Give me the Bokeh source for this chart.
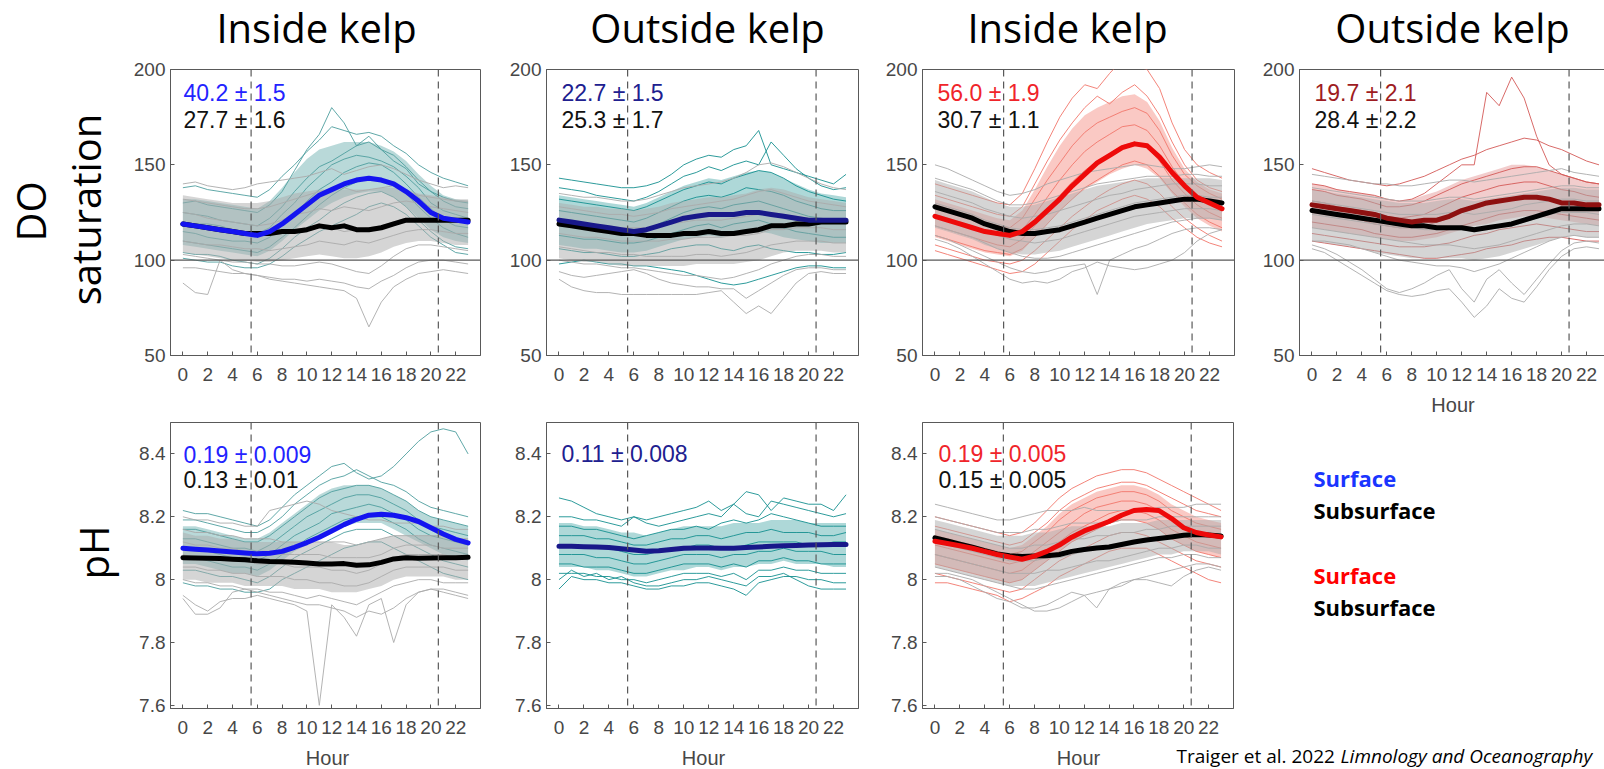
from bokeh.plotting import figure
from bokeh.layouts import column, row
from bokeh.models import Label, Span, Range1d, FixedTicker, CustomJSTickFormatter
from bokeh.embed import file_html
from bokeh.resources import INLINE

# ---------------- data ----------------
hours = list(range(24))
x_ticks = list(range(0, 23, 2))
do_ticks = [50, 100, 150, 200]
ph_ticks = [7.6, 7.8, 8.0, 8.2, 8.4]
do_range = (50, 200)
ph_range = (7.59, 8.5)
day_bounds = [5.5, 20.6]
do_ref = 100

col_titles = ["Inside kelp", "Outside kelp", "Inside kelp", "Outside kelp"]
row_do = ["DO", "saturation"]
row_ph = "pH"
x_label = "Hour"
do_stats_surf = ["40.2 \u00b1 1.5", "22.7 \u00b1 1.5", "56.0 \u00b1 1.9", "19.7 \u00b1 2.1"]
do_stats_sub = ["27.7 \u00b1 1.6", "25.3 \u00b1 1.7", "30.7 \u00b1 1.1", "28.4 \u00b1 2.2"]
ph_stats_surf = ["0.19 \u00b1 0.009", "0.11 \u00b1 0.008", "0.19 \u00b1 0.005"]
ph_stats_sub = ["0.13 \u00b1 0.01", None, "0.15 \u00b1 0.005"]
legend_text = ["Surface", "Subsurface", "Surface", "Subsurface"]
citation = ["Traiger et al. 2022 ", "Limnology and Oceanography"]

# --- Panel A: DO inside kelp (site 1)
A_surf_mean = [119,118,117,116,115,114,113,115,119,124,129,134,137,140,142,143,142,140,136,131,125,122,121,120]
A_sub_mean = [119,118,117,116,115,114,114,114,115,115,116,118,117,118,116,116,117,119,121,121,121,121,121,121]
A_surf_lo = [108,107,106,105,104,103,102,105,110,116,121,126,130,133,135,136,136,133,128,122,116,112,110,109]
A_surf_hi = [132,132,131,130,129,128,127,131,138,146,153,158,160,162,162,162,160,157,152,145,139,134,132,131]
A_surf_lines = [
    [138,139,137,136,135,134,133,137,144,150,157,163,170,168,166,167,165,160,156,150,146,143,141,139],
    [130,131,129,128,127,126,125,129,136,147,158,166,180,172,160,165,158,152,148,140,136,133,131,130],
    [125,124,123,121,120,119,118,122,128,136,143,149,152,156,160,162,158,155,149,142,136,131,128,127],
    [120,119,119,118,116,114,114,117,124,130,138,144,150,153,155,154,152,149,144,138,130,126,124,122],
    [115,114,112,111,110,110,109,112,118,124,131,137,141,146,149,151,150,146,140,133,127,121,118,117],
    [110,109,108,107,106,105,104,107,112,117,123,129,134,138,141,143,142,140,135,128,122,117,114,112],
    [104,103,103,102,100,99,98,101,106,112,117,121,126,130,133,135,136,133,128,121,115,110,107,106],
    [101,100,99,99,97,96,96,98,102,107,111,115,118,121,124,128,130,128,124,118,112,108,104,103],
]
A_sub_lo = [104,103,102,101,100,100,99,99,100,101,102,103,102,101,101,102,104,107,109,110,110,109,108,108]
A_sub_hi = [134,133,132,131,130,130,130,131,133,135,136,137,137,137,137,137,138,138,137,135,134,133,132,132]
A_sub_lines = [
    [140,141,139,138,137,138,140,141,142,143,144,146,148,145,147,149,150,148,145,142,140,138,139,138],
    [132,131,130,129,128,127,127,128,130,132,134,136,137,138,136,137,138,139,136,134,133,132,131,131],
    [125,124,122,121,120,119,118,119,121,124,125,127,126,128,127,126,128,130,131,130,128,127,126,125],
    [118,117,116,115,114,113,113,113,114,116,117,118,117,115,116,117,118,120,122,122,121,121,120,120],
    [110,109,108,108,107,106,106,105,106,107,108,110,109,108,110,109,111,113,115,116,116,115,114,114],
    [103,102,101,100,99,99,98,98,97,97,98,99,98,96,94,93,97,102,106,108,108,107,106,105],
    [96,96,95,94,93,93,92,91,90,90,89,90,89,88,86,85,89,92,96,99,100,100,99,98],
    [88,83,82,100,95,93,92,90,89,88,87,86,85,84,80,65,78,86,90,93,94,95,94,93],
]

# --- Panel B: DO outside kelp (site 1)
B_surf_mean = [121,120,119,118,117,116,115,116,118,120,122,123,124,124,124,125,125,124,123,122,121,121,121,121]
B_sub_mean = [119,118,117,116,115,114,114,113,113,113,114,114,115,114,114,115,116,118,118,119,119,120,120,120]
B_surf_lo = [108,107,106,106,105,104,104,105,107,109,111,112,113,112,113,114,115,114,112,111,110,109,109,109]
B_surf_hi = [134,133,132,131,130,129,128,130,133,136,139,141,143,142,144,146,147,146,143,140,137,135,134,133]
B_surf_lines = [
    [143,142,141,140,139,138,138,139,141,145,150,153,155,154,158,160,168,150,148,146,144,142,140,145],
    [138,137,136,134,133,132,131,133,136,140,144,146,149,147,150,152,150,162,155,148,143,139,137,138],
    [132,131,130,129,128,127,126,128,131,134,137,139,141,140,143,145,147,146,143,139,136,134,132,131],
    [126,125,124,123,122,121,120,122,125,128,131,133,134,133,135,138,137,136,134,131,129,127,126,126],
    [120,119,118,117,116,115,114,116,119,122,125,127,128,127,129,130,131,129,127,125,123,122,121,121],
    [113,112,111,111,110,109,109,110,112,114,116,118,119,117,119,120,121,119,117,115,114,113,112,112],
    [106,105,104,104,103,102,102,103,104,106,107,108,108,106,105,107,108,106,105,104,104,103,103,104],
    [98,99,100,99,98,98,97,97,96,95,94,92,90,88,87,88,90,92,94,96,97,97,96,96],
]
B_sub_lo = [101,100,99,99,98,97,97,97,97,97,97,98,98,98,98,99,100,102,104,105,105,105,104,104]
B_sub_hi = [130,129,128,128,127,127,126,127,128,130,131,132,133,133,134,135,137,138,137,135,133,132,131,130]
B_sub_lines = [
    [135,134,133,133,132,131,131,132,134,136,138,139,140,141,143,146,150,151,149,146,143,140,138,137],
    [128,127,126,125,124,124,123,124,125,127,128,129,130,131,132,134,136,137,135,133,131,130,129,128],
    [121,120,119,119,118,117,117,117,118,119,120,121,121,121,122,123,124,125,124,123,122,122,121,121],
    [114,113,112,112,111,110,110,110,110,111,111,112,112,112,113,113,114,116,116,117,117,117,116,116],
    [107,106,105,104,104,103,103,102,102,102,102,103,103,102,103,104,106,108,109,110,110,110,109,109],
    [100,99,98,98,97,96,96,95,94,93,92,92,91,90,91,93,95,98,100,102,103,103,102,102],
    [94,92,91,92,93,94,95,93,90,88,87,86,86,85,85,80,84,88,92,95,96,96,95,95],
    [90,86,84,83,83,82,82,82,82,82,82,82,83,84,78,72,76,72,80,88,93,94,93,93],
]

# --- Panel C: DO inside kelp (site 2)
C_surf_mean = [123,121,119,117,115,114,113,115,120,126,132,139,145,151,155,159,161,160,154,146,139,133,130,127]
C_sub_mean = [128,126,124,122,119,117,115,114,114,115,116,118,120,122,124,126,128,129,130,131,132,132,131,130]
C_surf_lo = [112,110,108,106,104,103,102,105,112,119,126,132,137,141,145,148,150,148,143,135,128,122,118,115]
C_surf_hi = [132,130,128,126,124,122,121,126,137,149,160,169,176,180,183,186,187,183,173,159,148,141,137,135]
C_surf_lines = [
    [140,138,136,134,132,130,129,135,148,162,175,185,192,190,198,205,202,200,190,172,158,150,146,143],
    [134,132,130,128,126,124,123,128,140,152,163,172,180,186,182,188,192,186,176,162,150,142,138,136],
    [128,126,124,122,120,118,117,122,132,142,151,160,167,172,175,178,180,177,168,155,145,139,135,132],
    [123,121,119,117,115,113,112,116,124,133,142,150,157,162,166,170,171,168,160,149,140,134,130,127],
    [118,116,114,112,110,108,107,111,118,126,134,141,147,152,156,160,162,159,152,142,135,129,125,122],
    [113,111,109,107,105,104,103,106,112,119,126,132,138,142,146,150,152,150,144,136,130,124,120,117],
    [108,106,104,102,100,99,98,100,105,111,117,123,128,133,137,140,142,140,135,128,122,117,113,110],
    [105,103,101,99,97,95,93,94,98,104,110,116,121,126,129,132,134,132,128,122,117,112,109,107],
]
C_sub_lo = [117,115,113,111,108,106,104,103,103,104,105,107,109,111,113,115,117,119,120,121,122,122,122,121]
C_sub_hi = [142,140,138,136,133,130,128,128,129,131,133,135,137,139,140,141,142,143,143,143,143,143,143,142]
C_sub_lines = [
    [150,148,145,142,139,136,134,135,137,140,142,144,146,147,148,149,150,150,149,148,148,149,150,149],
    [143,141,139,137,134,131,129,129,130,132,134,136,138,140,141,142,143,144,144,144,145,145,144,144],
    [136,134,132,130,127,125,123,122,123,124,126,128,130,132,134,135,137,138,139,140,140,140,139,139],
    [130,128,126,124,121,119,117,116,116,117,118,120,122,124,126,128,130,131,132,133,134,134,133,133],
    [124,122,120,118,115,113,111,110,109,110,111,113,115,117,119,121,123,124,125,126,127,127,127,126],
    [118,116,114,112,109,106,104,102,101,101,102,104,106,108,110,112,114,116,118,120,121,122,122,121],
    [113,111,108,105,102,99,96,94,93,94,96,97,98,82,100,103,106,108,111,114,116,117,117,116],
    [111,109,106,102,98,94,90,88,89,88,90,94,96,99,97,96,95,96,98,100,104,110,114,116],
]

# --- Panel D: DO outside kelp (site 2)
D_surf_mean = [129,128,127,126,125,124,122,121,120,121,121,123,126,128,130,131,132,133,133,132,130,130,129,129]
D_sub_mean = [126,125,124,123,122,121,120,119,118,118,117,117,117,116,117,118,119,121,123,125,127,127,127,127]
D_surf_lo = [117,116,115,114,113,112,111,110,110,111,112,114,116,118,119,121,122,123,123,122,121,120,119,118]
D_surf_hi = [140,139,137,136,135,134,132,131,132,134,136,139,142,144,146,148,150,150,149,147,145,143,141,140]
D_surf_lines = [
    [140,139,137,136,135,134,132,131,132,135,140,145,150,150,188,181,196,185,165,150,145,143,141,140],
    [148,146,144,142,141,140,139,140,142,144,147,150,153,155,158,160,162,164,163,160,158,155,152,150],
    [137,136,134,133,132,130,128,128,129,131,134,137,140,142,144,146,148,149,149,147,145,143,141,140],
    [131,130,128,127,126,125,123,122,123,124,127,130,133,135,137,139,140,141,141,139,137,136,134,133],
    [126,125,123,122,121,119,118,117,117,118,120,122,125,127,129,131,132,133,133,132,130,129,128,127],
    [120,119,118,117,116,114,113,112,112,113,114,116,118,120,122,124,125,126,126,125,124,123,122,121],
    [114,113,112,111,110,109,108,107,107,107,108,109,111,113,114,116,117,118,119,118,117,116,115,115],
    [110,109,108,107,106,105,104,103,102,101,101,102,103,104,106,107,108,110,111,112,112,111,110,110],
]
D_sub_lo = [110,109,108,107,106,104,103,102,101,101,101,101,101,100,101,102,104,106,108,110,112,113,112,112]
D_sub_hi = [137,136,135,134,133,132,131,130,130,130,131,132,132,131,132,133,134,135,136,137,138,138,137,137]
D_sub_lines = [
    [145,144,143,142,141,140,140,139,139,140,141,142,142,141,142,143,144,145,146,147,148,146,145,144],
    [138,137,136,135,134,133,132,131,131,131,132,133,133,132,133,134,135,136,137,138,139,139,138,138],
    [131,130,129,128,127,126,125,124,124,124,124,125,125,124,125,126,127,129,130,131,132,132,131,131],
    [124,123,122,121,120,119,118,117,117,116,116,116,116,115,116,117,118,120,122,124,125,125,125,124],
    [117,116,115,114,113,112,111,110,109,108,108,108,107,106,107,108,110,112,114,116,118,119,119,118],
    [110,110,109,108,106,104,102,100,99,98,97,97,96,94,96,98,101,104,107,110,112,113,112,112],
    [108,106,103,99,95,90,85,83,85,88,92,95,85,78,90,95,88,82,90,98,105,109,110,109],
    [106,104,100,96,92,88,84,82,81,82,84,85,78,70,76,85,80,78,86,95,102,106,107,106],
]

# --- Panel E: pH inside kelp (site 1)
E_surf_mean = [8.100,8.097,8.094,8.091,8.088,8.085,8.082,8.084,8.090,8.103,8.118,8.135,8.155,8.175,8.192,8.205,8.208,8.205,8.197,8.185,8.165,8.145,8.128,8.117]
E_sub_mean = [8.070,8.069,8.068,8.067,8.065,8.063,8.060,8.058,8.057,8.055,8.053,8.050,8.050,8.051,8.046,8.047,8.055,8.066,8.070,8.068,8.069,8.070,8.070,8.071]
E_surf_lo = [8.05,8.05,8.04,8.03,8.02,8.02,8.01,8.03,8.06,8.09,8.11,8.13,8.15,8.17,8.18,8.18,8.18,8.16,8.14,8.12,8.10,8.08,8.07,8.06]
E_surf_hi = [8.17,8.17,8.16,8.15,8.14,8.13,8.13,8.15,8.18,8.21,8.24,8.27,8.29,8.30,8.30,8.30,8.29,8.27,8.25,8.22,8.20,8.19,8.18,8.17]
E_surf_lines = [
    [8.22,8.21,8.21,8.20,8.19,8.18,8.17,8.19,8.23,8.27,8.30,8.33,8.36,8.37,8.34,8.32,8.33,8.36,8.40,8.44,8.47,8.48,8.47,8.40],
    [8.19,8.19,8.18,8.17,8.16,8.15,8.15,8.17,8.20,8.24,8.27,8.30,8.32,8.33,8.35,8.33,8.31,8.30,8.28,8.25,8.23,8.22,8.21,8.20],
    [8.16,8.16,8.15,8.14,8.13,8.12,8.12,8.14,8.17,8.20,8.23,8.26,8.28,8.29,8.30,8.30,8.29,8.27,8.25,8.22,8.20,8.19,8.18,8.17],
    [8.13,8.13,8.12,8.11,8.10,8.10,8.09,8.11,8.14,8.17,8.20,8.22,8.24,8.26,8.27,8.27,8.26,8.24,8.22,8.19,8.17,8.16,8.15,8.14],
    [8.10,8.10,8.09,8.08,8.07,8.07,8.06,8.08,8.11,8.14,8.16,8.18,8.21,8.22,8.23,8.24,8.23,8.21,8.19,8.16,8.14,8.13,8.12,8.11],
    [8.07,8.07,8.06,8.05,8.04,8.04,8.03,8.05,8.08,8.10,8.13,8.15,8.17,8.19,8.20,8.20,8.20,8.18,8.16,8.13,8.11,8.10,8.09,8.08],
    [8.03,8.03,8.02,8.01,8.01,8.00,7.99,8.01,8.04,8.07,8.09,8.11,8.13,8.15,8.16,8.16,8.16,8.14,8.12,8.10,8.08,8.06,8.05,8.04],
    [7.99,7.98,7.98,7.97,7.97,7.96,7.96,7.97,8.00,8.02,8.04,8.06,8.08,8.10,8.11,8.12,8.12,8.10,8.08,8.06,8.04,8.02,8.01,8.00],
]
E_sub_lo = [8.00,8.00,7.99,7.99,7.99,7.98,7.98,7.98,7.98,7.97,7.97,7.97,7.96,7.96,7.96,7.97,7.98,8.00,8.01,8.01,8.01,8.01,8.00,8.00]
E_sub_hi = [8.15,8.14,8.14,8.13,8.13,8.12,8.12,8.12,8.12,8.12,8.12,8.12,8.12,8.11,8.11,8.12,8.13,8.14,8.14,8.14,8.14,8.14,8.13,8.13]
E_sub_lines = [
    [8.20,8.19,8.19,8.18,8.18,8.17,8.17,8.22,8.23,8.24,8.25,8.24,8.22,8.21,8.20,8.19,8.19,8.18,8.18,8.18,8.17,8.17,8.16,8.16],
    [8.16,8.15,8.15,8.14,8.14,8.13,8.13,8.13,8.12,8.12,8.12,8.12,8.12,8.12,8.11,8.12,8.13,8.14,8.14,8.14,8.14,8.14,8.13,8.13],
    [8.12,8.11,8.11,8.10,8.10,8.09,8.09,8.09,8.08,8.08,8.08,8.08,8.07,8.07,8.07,8.07,8.08,8.10,8.11,8.11,8.11,8.10,8.10,8.10],
    [8.08,8.07,8.07,8.07,8.06,8.06,8.05,8.05,8.05,8.04,8.04,8.04,8.03,8.03,8.02,8.03,8.05,8.07,8.08,8.08,8.08,8.08,8.07,8.07],
    [8.04,8.04,8.03,8.03,8.02,8.02,8.01,8.01,8.01,8.00,8.00,7.99,7.99,7.98,7.98,7.99,8.01,8.03,8.04,8.04,8.04,8.04,8.03,8.03],
    [8.00,7.99,7.99,7.98,7.98,7.97,7.97,7.96,7.96,7.95,7.94,7.95,7.94,7.93,7.92,7.94,7.96,7.98,7.99,8.00,8.00,7.99,7.99,7.99],
    [7.95,7.92,7.90,7.93,7.94,7.94,7.95,7.94,7.93,7.92,7.90,7.60,7.92,7.88,7.82,7.92,7.94,7.80,7.92,7.96,7.97,7.97,7.96,7.95],
    [7.94,7.89,7.89,7.91,7.96,7.97,7.96,7.95,7.94,7.93,7.92,7.92,7.91,7.90,7.88,7.90,7.89,7.91,7.94,7.96,7.97,7.96,7.95,7.94],
]

# --- Panel F: pH outside kelp (site 1), surface only
F_surf_mean = [8.106,8.106,8.105,8.104,8.102,8.098,8.094,8.090,8.092,8.096,8.100,8.101,8.101,8.100,8.100,8.102,8.104,8.106,8.108,8.109,8.110,8.111,8.112,8.112]
F_surf_lo = [8.04,8.04,8.04,8.03,8.03,8.02,8.01,8.01,8.02,8.03,8.03,8.04,8.04,8.03,8.04,8.04,8.05,8.05,8.06,8.05,8.05,8.05,8.04,8.04]
F_surf_hi = [8.18,8.18,8.17,8.17,8.16,8.15,8.15,8.14,8.15,8.16,8.17,8.17,8.17,8.17,8.18,8.18,8.18,8.19,8.19,8.19,8.18,8.18,8.18,8.18]
F_surf_lines = [
    [8.26,8.25,8.23,8.21,8.20,8.19,8.20,8.19,8.20,8.21,8.22,8.23,8.25,8.22,8.24,8.28,8.27,8.22,8.26,8.25,8.24,8.24,8.22,8.27],
    [8.20,8.20,8.19,8.19,8.18,8.17,8.20,8.18,8.17,8.18,8.19,8.20,8.21,8.20,8.24,8.21,8.20,8.25,8.24,8.23,8.22,8.21,8.20,8.21],
    [8.17,8.17,8.16,8.16,8.15,8.14,8.13,8.14,8.15,8.16,8.16,8.17,8.16,8.18,8.19,8.18,8.19,8.21,8.20,8.19,8.18,8.17,8.17,8.17],
    [8.14,8.14,8.14,8.13,8.13,8.12,8.11,8.11,8.12,8.13,8.13,8.14,8.14,8.13,8.14,8.15,8.15,8.16,8.15,8.15,8.15,8.14,8.14,8.15],
    [8.11,8.11,8.10,8.10,8.10,8.09,8.08,8.08,8.09,8.10,8.10,8.11,8.11,8.10,8.10,8.11,8.12,8.12,8.12,8.12,8.11,8.11,8.12,8.12],
    [8.08,8.08,8.08,8.07,8.07,8.06,8.05,8.05,8.06,8.07,8.08,8.08,8.08,8.07,8.08,8.08,8.09,8.09,8.10,8.09,8.09,8.09,8.08,8.08],
    [8.05,8.05,8.04,8.04,8.04,8.03,8.02,8.02,8.03,8.04,8.05,8.05,8.05,8.04,8.05,8.04,8.06,8.06,8.07,8.06,8.06,8.05,8.05,8.05],
    [8.02,8.02,8.02,8.01,8.01,8.00,8.00,7.99,8.00,8.01,8.02,8.02,8.02,8.01,8.02,8.00,8.03,8.03,8.04,8.03,8.03,8.02,8.02,8.02],
    [7.97,8.01,8.00,8.00,7.99,7.99,7.98,7.97,7.97,7.98,7.98,7.99,7.99,7.98,7.97,7.95,7.99,8.00,8.01,8.01,8.00,8.00,7.99,7.99],
    [8.00,8.03,8.01,8.02,8.00,8.01,7.99,7.98,7.98,7.99,8.00,8.00,8.01,8.00,7.99,7.98,8.01,8.01,8.02,8.00,7.98,7.97,7.97,7.97],
]

# --- Panel G: pH inside kelp (site 2)
G_surf_mean = [8.122,8.115,8.108,8.100,8.090,8.080,8.072,8.065,8.075,8.090,8.110,8.135,8.155,8.170,8.185,8.205,8.220,8.223,8.220,8.195,8.165,8.150,8.142,8.136]
G_sub_mean = [8.133,8.123,8.113,8.103,8.092,8.082,8.076,8.074,8.075,8.076,8.080,8.090,8.096,8.101,8.104,8.112,8.120,8.126,8.131,8.136,8.141,8.144,8.142,8.139]
G_surf_lo = [8.05,8.04,8.03,8.02,8.01,8.00,7.99,8.00,8.03,8.06,8.09,8.12,8.14,8.16,8.18,8.19,8.19,8.18,8.16,8.13,8.11,8.09,8.08,8.07]
G_surf_hi = [8.16,8.15,8.14,8.13,8.12,8.11,8.10,8.11,8.14,8.17,8.21,8.24,8.26,8.28,8.29,8.30,8.30,8.29,8.27,8.24,8.22,8.20,8.19,8.18]
G_surf_lines = [
    [8.20,8.19,8.18,8.17,8.16,8.15,8.14,8.15,8.18,8.22,8.26,8.29,8.31,8.33,8.34,8.35,8.35,8.34,8.32,8.30,8.28,8.26,8.24,8.22],
    [8.17,8.16,8.15,8.14,8.13,8.12,8.11,8.12,8.15,8.18,8.22,8.25,8.27,8.29,8.30,8.31,8.31,8.30,8.28,8.26,8.24,8.22,8.21,8.20],
    [8.14,8.13,8.12,8.11,8.10,8.09,8.08,8.09,8.12,8.15,8.19,8.22,8.24,8.26,8.27,8.28,8.28,8.27,8.25,8.22,8.20,8.18,8.17,8.16],
    [8.11,8.10,8.09,8.08,8.07,8.06,8.05,8.06,8.09,8.12,8.15,8.18,8.21,8.23,8.24,8.25,8.25,8.24,8.22,8.19,8.17,8.15,8.14,8.13],
    [8.08,8.07,8.06,8.05,8.04,8.03,8.02,8.03,8.06,8.09,8.12,8.15,8.17,8.19,8.21,8.22,8.22,8.21,8.19,8.16,8.14,8.12,8.11,8.10],
    [8.05,8.04,8.03,8.02,8.01,8.00,7.99,8.00,8.03,8.06,8.09,8.12,8.14,8.16,8.18,8.19,8.19,8.18,8.16,8.13,8.11,8.09,8.08,8.07],
    [8.02,8.01,8.00,7.99,7.98,7.97,7.96,7.97,8.00,8.03,8.06,8.08,8.10,8.12,8.14,8.15,8.15,8.14,8.12,8.10,8.08,8.06,8.05,8.04],
    [7.99,7.99,7.98,7.97,7.96,7.95,7.93,7.94,7.96,7.98,8.01,8.03,8.05,8.07,8.09,8.10,8.10,8.10,8.08,8.06,8.04,8.02,8.00,7.99],
]
G_sub_lo = [8.04,8.03,8.02,8.01,8.00,7.99,7.98,7.98,7.98,7.99,8.00,8.01,8.02,8.03,8.04,8.05,8.06,8.07,8.08,8.08,8.09,8.09,8.09,8.08]
G_sub_hi = [8.19,8.18,8.17,8.16,8.15,8.14,8.14,8.14,8.15,8.15,8.16,8.17,8.17,8.17,8.17,8.18,8.18,8.18,8.19,8.19,8.19,8.19,8.19,8.19]
G_sub_lines = [
    [8.24,8.23,8.22,8.21,8.20,8.19,8.19,8.20,8.21,8.22,8.22,8.22,8.23,8.22,8.22,8.22,8.22,8.22,8.23,8.23,8.23,8.24,8.24,8.24],
    [8.20,8.19,8.18,8.17,8.16,8.15,8.15,8.15,8.16,8.16,8.17,8.18,8.18,8.18,8.18,8.19,8.19,8.19,8.20,8.20,8.20,8.20,8.20,8.20],
    [8.16,8.15,8.14,8.13,8.12,8.11,8.10,8.10,8.11,8.11,8.12,8.13,8.13,8.14,8.14,8.15,8.15,8.16,8.16,8.17,8.17,8.17,8.17,8.17],
    [8.12,8.11,8.10,8.09,8.08,8.07,8.06,8.06,8.06,8.07,8.07,8.08,8.09,8.10,8.10,8.11,8.12,8.12,8.13,8.13,8.14,8.14,8.14,8.13],
    [8.08,8.07,8.06,8.05,8.04,8.03,8.02,8.02,8.02,8.03,8.03,8.04,8.05,8.06,8.06,8.07,8.08,8.09,8.10,8.10,8.11,8.11,8.10,8.10],
    [8.04,8.03,8.02,8.01,8.00,7.99,7.98,7.97,7.97,7.98,7.99,8.00,8.01,8.02,8.03,8.04,8.05,8.06,8.07,8.07,8.08,8.08,8.07,8.07],
    [8.01,8.01,8.00,7.98,7.96,7.94,7.93,7.91,7.91,7.92,7.94,7.96,7.95,7.91,7.97,7.99,8.00,8.00,7.99,7.98,8.01,8.03,8.04,8.03],
    [8.02,8.02,8.01,8.00,7.98,7.96,7.94,7.92,7.90,7.90,7.91,7.93,7.95,7.96,7.97,7.98,8.00,8.01,8.02,8.03,8.04,8.05,8.05,8.04],
]

# ---------------- styling ----------------
AX = "#595959"
LBL = "#474747"
TEAL_IN = "#4f9f9f"
TEAL_OUT = "#169090"
SALMON_IN = "#f2776b"
SALMON_OUT = "#d45a58"
GRAY = "#ababab"
BLUE = "#1414f0"
NAVY = "#18188a"
RED = "#ee0a0a"
DARKRED = "#8e1010"
TXT_BLUE = "#2323ff"
TXT_NAVY = "#20208f"
TXT_RED = "#f0242a"
TXT_DARKRED = "#9e1c22"
TITLE_FONT = "Open Sans"
NUM_FONT = "Liberation Sans"
TICK_SIZE = "19px"
XLAB_SIZE = "20px"
HALF_PI = 1.5707963


def panel(bl, fw, br, bt, fh, bb, yr, yticks, xend=24, xlabel=None, ph=False):
    p = figure(frame_width=fw, frame_height=fh,
               min_border_left=bl, min_border_right=br,
               min_border_top=bt, min_border_bottom=bb,
               x_range=Range1d(-1, xend), y_range=Range1d(*yr),
               output_backend="svg", toolbar_location=None)
    p.xgrid.visible = False
    p.ygrid.visible = False
    p.outline_line_color = AX
    p.outline_line_width = 1
    p.background_fill_color = "white"
    p.border_fill_color = "white"
    p.xaxis.ticker = FixedTicker(ticks=x_ticks)
    p.yaxis.ticker = FixedTicker(ticks=yticks)
    if ph:
        p.yaxis.formatter = CustomJSTickFormatter(code="return String(Math.round(tick*10)/10);")
    for ax in (p.xaxis[0], p.yaxis[0]):
        ax.axis_line_color = AX
        ax.major_tick_line_color = AX
        ax.major_tick_in = 4
        ax.major_tick_out = 0
        ax.minor_tick_line_color = None
        ax.major_label_text_font = NUM_FONT
        ax.major_label_text_font_size = TICK_SIZE
        ax.major_label_text_color = LBL
    p.yaxis.major_label_standoff = 5
    p.xaxis.major_label_standoff = 12
    if xlabel:
        p.xaxis.axis_label = xlabel
        p.xaxis.axis_label_text_font = NUM_FONT
        p.xaxis.axis_label_text_font_size = XLAB_SIZE
        p.xaxis.axis_label_text_font_style = "normal"
        p.xaxis.axis_label_text_color = LBL
        p.xaxis.axis_label_standoff = 10
    return p


def text_strip(w, h):
    p = figure(frame_width=w, frame_height=h, min_border=0,
               x_range=Range1d(0, w), y_range=Range1d(0, h),
               x_axis_location=None, y_axis_location=None,
               output_backend="svg", toolbar_location=None)
    p.xgrid.visible = False
    p.ygrid.visible = False
    p.outline_line_color = None
    p.background_fill_color = "white"
    p.border_fill_color = "white"
    return p


def put(p, text, x, y, color, size, font, style="normal", align="left",
        angle=0.0, units="data"):
    # all texts are positioned by their vertical middle
    p.add_layout(Label(x=x, y=y, x_units=units, y_units=units, text=text,
                       text_color=color, text_font=font, text_font_size=size,
                       text_font_style=style, text_align=align,
                       text_baseline="middle", angle=angle))


def note(p, text, x, y, color):
    put(p, text, x, y, color, "23px", NUM_FONT, units="screen")


def spaghetti(p, lo, hi, lines, color, band_alpha):
    p.varea(x=hours, y1=lo, y2=hi, fill_color=color, fill_alpha=band_alpha)
    p.multi_line(xs=[hours] * len(lines), ys=lines, line_color=color,
                 line_width=1, line_alpha=0.9)


def refs(p, with_100):
    if with_100:
        p.add_layout(Span(location=do_ref, dimension="width", line_color=AX, line_width=1.2))
    for d in day_bounds:
        p.add_layout(Span(location=d, dimension="height", line_color=AX,
                          line_width=1.2, line_dash="7 5"))


def means(p, sub, surf, surf_color):
    if sub is not None:
        p.line(hours, sub, line_color="black", line_width=5, line_join="round", line_cap="round")
    p.line(hours, surf, line_color=surf_color, line_width=5, line_join="round", line_cap="round")


# ---------------- title strip (y 0..58) ----------------
pT = text_strip(1604, 58)
for tx, cx in zip(col_titles, [316, 707, 1067, 1452]):
    put(pT, tx, cx, 31, "black", "40px", TITLE_FONT, align="center")

# ---------------- top row (DO), y 58..421 ----------------
pRL1 = text_strip(120, 363)
put(pRL1, row_do[0], 30, 221, "black", "40px", TITLE_FONT, align="center", angle=HALF_PI)
put(pRL1, row_do[1], 85, 223, "black", "40px", TITLE_FONT, align="center", angle=HALF_PI)

pA = panel(50, 310, 25, 11, 286, 66, do_range, do_ticks)
spaghetti(pA, A_surf_lo, A_surf_hi, A_surf_lines, TEAL_IN, 0.4)
spaghetti(pA, A_sub_lo, A_sub_hi, A_sub_lines, GRAY, 0.5)
means(pA, A_sub_mean, A_surf_mean, BLUE)
refs(pA, True)
note(pA, do_stats_surf[0], 13, 263, TXT_BLUE)
note(pA, do_stats_sub[0], 13, 236, "#111111")

pB = panel(41, 312, 24, 11, 286, 66, do_range, do_ticks)
spaghetti(pB, B_surf_lo, B_surf_hi, B_surf_lines, TEAL_OUT, 0.35)
spaghetti(pB, B_sub_lo, B_sub_hi, B_sub_lines, GRAY, 0.5)
means(pB, B_sub_mean, B_surf_mean, NAVY)
refs(pB, True)
note(pB, do_stats_surf[1], 15, 263, TXT_NAVY)
note(pB, do_stats_sub[1], 15, 236, "#111111")

pC = panel(39, 312, 25, 11, 286, 66, do_range, do_ticks)
spaghetti(pC, C_surf_lo, C_surf_hi, C_surf_lines, SALMON_IN, 0.4)
spaghetti(pC, C_sub_lo, C_sub_hi, C_sub_lines, GRAY, 0.5)
means(pC, C_sub_mean, C_surf_mean, RED)
refs(pC, True)
note(pC, do_stats_surf[2], 15, 263, TXT_RED)
note(pC, do_stats_sub[2], 15, 236, "#111111")

pD = panel(38, 307, 1, 11, 286, 66, do_range, do_ticks, xend=23.6, xlabel=x_label)
spaghetti(pD, D_surf_lo, D_surf_hi, D_surf_lines, SALMON_OUT, 0.3)
spaghetti(pD, D_sub_lo, D_sub_hi, D_sub_lines, GRAY, 0.5)
means(pD, D_sub_mean, D_surf_mean, DARKRED)
refs(pD, True)
note(pD, do_stats_surf[3], 15, 263, TXT_DARKRED)
note(pD, do_stats_sub[3], 15, 236, "#111111")

# ---------------- bottom row (pH), y 421..742 ----------------
pRL2 = text_strip(120, 321)
put(pRL2, row_ph, 93, 191, "black", "40px", TITLE_FONT, align="center", angle=HALF_PI)

pE = panel(50, 310, 25, 1, 286, 34, ph_range, ph_ticks, ph=True)
spaghetti(pE, E_surf_lo, E_surf_hi, E_surf_lines, TEAL_IN, 0.4)
spaghetti(pE, E_sub_lo, E_sub_hi, E_sub_lines, GRAY, 0.5)
means(pE, E_sub_mean, E_surf_mean, BLUE)
refs(pE, False)
note(pE, ph_stats_surf[0], 13, 254, TXT_BLUE)
note(pE, ph_stats_sub[0], 13, 229, "#111111")

pF = panel(41, 312, 24, 1, 286, 34, ph_range, ph_ticks, ph=True)
spaghetti(pF, F_surf_lo, F_surf_hi, F_surf_lines, TEAL_OUT, 0.35)
means(pF, None, F_surf_mean, NAVY)
refs(pF, False)
note(pF, ph_stats_surf[1], 15, 255, TXT_NAVY)

pG = panel(40, 311, 7, 1, 286, 34, ph_range, ph_ticks, ph=True)
spaghetti(pG, G_surf_lo, G_surf_hi, G_surf_lines, SALMON_IN, 0.4)
spaghetti(pG, G_sub_lo, G_sub_hi, G_sub_lines, GRAY, 0.5)
means(pG, G_sub_mean, G_surf_mean, RED)
refs(pG, False)
note(pG, ph_stats_surf[2], 16, 255, TXT_RED)
note(pG, ph_stats_sub[2], 16, 229, "#111111")

pL = text_strip(364, 321)
for tx, ty, tc in zip(legend_text, [266, 234, 169, 137], ["#1a35ff", "black", "#ff0000", "black"]):
    put(pL, tx, 73, ty, tc, "22px", TITLE_FONT, style="bold")

# ---------------- bottom strip (y 742..769): x labels + citation ----------------
pS = text_strip(1604, 27)
for cx in [327, 703, 1078]:
    put(pS, x_label, cx, 12, LBL, XLAB_SIZE, NUM_FONT, align="center")
put(pS, citation[0], 1176, 13.5, "black", "19px", TITLE_FONT)
put(pS, citation[1], 1340, 13.5, "black", "19px", TITLE_FONT, style="italic")

layout = column(
    pT,
    row(pRL1, pA, pB, pC, pD, spacing=0),
    row(pRL2, pE, pF, pG, pL, spacing=0),
    pS,
    spacing=0,
)

open("out.html", "w").write(file_html(layout, INLINE))
